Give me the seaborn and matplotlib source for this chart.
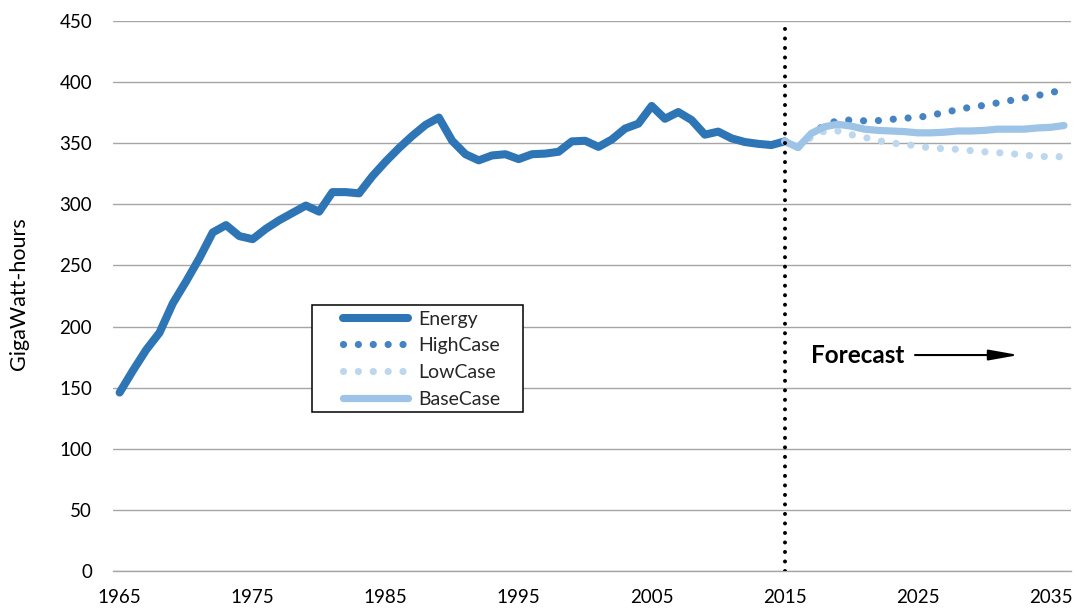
import numpy as np
import pandas as pd
import matplotlib
matplotlib.use("Agg")
import matplotlib.pyplot as plt
from matplotlib.patches import Rectangle
import seaborn as sns

# ---------------- data ----------------
hist_years = list(range(1965, 2016))
energy = [146, 164, 181, 195, 219, 237, 256, 277, 283, 274, 271.5, 280, 287, 293, 299,
          294, 310, 310, 309, 323, 335, 346, 356, 365, 371, 352, 341, 336, 340, 341,
          337, 341, 341.5, 343, 351.5, 352, 347, 353, 362, 366, 380.5, 370, 375.5, 369,
          357, 359.5, 354, 351, 349.5, 348.5, 351.5]

fc_years = list(range(2015, 2037))
high_case = [351.5, 346.5, 357, 365, 368.5, 369, 368.3, 368.5, 369.5, 370.5, 371, 373,
             375, 377.5, 379.5, 381, 383, 385, 387, 389, 391.5, 393.5]
low_case = [351.5, 346.5, 355, 360, 360, 357, 354.8, 352.3, 350, 349.4, 347.5, 346.2,
            345.5, 345, 344, 343, 342.3, 341.5, 340.3, 339.3, 339, 339]
base_case = [351.5, 346.5, 358, 363.5, 365.5, 364, 361.5, 360.5, 360, 359.5, 358.5, 358.5,
             359, 360, 360, 360.5, 361.5, 361.5, 361.5, 362.5, 363, 364.5]

xtick_years = [1965, 1975, 1985, 1995, 2005, 2015, 2025, 2035]
ytick_vals = list(range(0, 451, 50))
forecast_year = 2015

df_hist = pd.DataFrame({"year": hist_years, "value": energy})
df_high = pd.DataFrame({"year": fc_years, "value": high_case})
df_low = pd.DataFrame({"year": fc_years, "value": low_case})
df_base = pd.DataFrame({"year": fc_years, "value": base_case})

# ---------------- style ----------------
sns.set_style("white")
plt.rcParams["font.family"] = ["Lato", "DejaVu Sans"]

C_ENERGY = "#2E75B6"
C_HIGH = "#4683C3"
C_LOW = "#BDD7EE"
C_BASE = "#9DC3E6"
GRID = "#A6A6A6"

fig = plt.figure(figsize=(10.77, 6.08), dpi=100)
ax = fig.add_axes([0.1049, 0.06086, 0.8892, 0.9046])

dot_style = (0, (0.001, 2.06))

sns.lineplot(data=df_hist, x="year", y="value", ax=ax, color=C_ENERGY, linewidth=5.8,
             solid_capstyle="round", solid_joinstyle="round", label="Energy", zorder=3)
sns.lineplot(data=df_high, x="year", y="value", ax=ax, color=C_HIGH, linewidth=5.2,
             linestyle=dot_style, dash_capstyle="round", label="HighCase", zorder=3)
sns.lineplot(data=df_low, x="year", y="value", ax=ax, color=C_LOW, linewidth=5.2,
             linestyle=dot_style, dash_capstyle="round", label="LowCase", zorder=3)
sns.lineplot(data=df_base, x="year", y="value", ax=ax, color=C_BASE, linewidth=5.2,
             solid_capstyle="round", solid_joinstyle="round", label="BaseCase", zorder=3)

# forecast divider
ax.axvline(forecast_year, ymin=0, ymax=0.99, color="black", linewidth=2.9,
           linestyle=(0, (0.001, 2.36)), dash_capstyle="round", zorder=5)

# axes
ax.set_xlim(1964.5, 2036.5)
ax.set_ylim(0, 450)
ax.set_yticks(ytick_vals)
ax.set_xticks(xtick_years)
ax.set_xticklabels([str(y) for y in xtick_years])
ax.set_xticks(np.arange(1964.5, 2037, 1), minor=True)
ax.yaxis.grid(True, color=GRID, linewidth=1.0)
ax.xaxis.grid(False)
ax.set_axisbelow(True)
for s in ["left", "top", "right"]:
    ax.spines[s].set_visible(False)
ax.spines["bottom"].set_color(GRID)
ax.spines["bottom"].set_linewidth(1.0)
ax.spines["bottom"].set_zorder(2.5)

ax.tick_params(axis="x", which="major", length=0, pad=13, labelsize=13.5, labelcolor="black")
ax.tick_params(axis="x", which="minor", length=4, width=1.0, color=GRID, direction="out")
ax.tick_params(axis="y", which="major", length=0, pad=15, labelsize=13.5, labelcolor="black")

ax.set_xlabel("")
ax.set_ylabel("GigaWatt-hours", fontsize=15.5, color="black")
ax.yaxis.set_label_coords(-0.0877, 0.505)

# legend with custom frame
ax.add_patch(Rectangle((0.2074, 0.2896), 0.2206, 0.194, transform=ax.transAxes,
                       facecolor="white", edgecolor="black", linewidth=1.1, zorder=6))
leg = ax.legend(loc="upper left", bbox_to_anchor=(0.2401, 0.4736), borderaxespad=0,
                borderpad=0, frameon=False, fontsize=14, handlelength=3.35,
                handletextpad=0.5, labelspacing=0.5)
leg.set_zorder(7)

# forecast annotation
ax.text(2017.0, 176.7, "Forecast", fontsize=17.5, fontweight="bold", ha="left",
        va="center", color="black")
ax.annotate("", xy=(2032.6, 176.7), xytext=(2024.8, 176.7),
            arrowprops=dict(arrowstyle="-|>,head_length=1.8,head_width=0.32",
                            lw=1.5, color="black", shrinkA=0, shrinkB=0))

fig.savefig("out.png", dpi=100)
